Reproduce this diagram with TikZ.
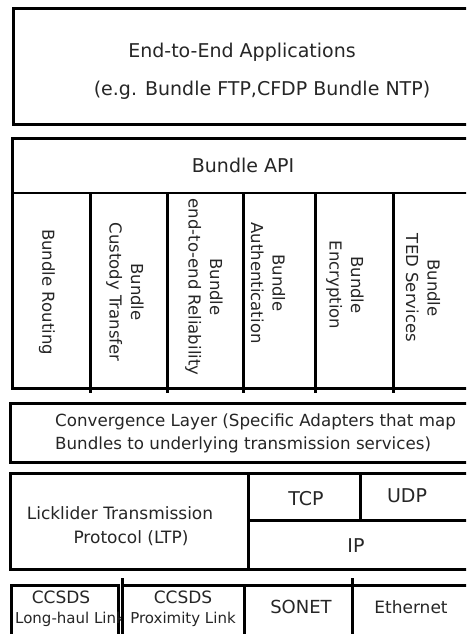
\documentclass[tikz,border=0pt]{standalone}
\usepackage{fontspec}
\setmainfont{DejaVu Sans}
\begin{document}
\begin{tikzpicture}[x=1pt,y=-1pt,
  box/.style={draw=black, fill=white, line width=3pt, inner sep=0pt, outer sep=0pt, anchor=north west},
  sep/.style={draw=black, line width=3pt},
  thin/.style={draw=black, line width=2.2pt},
  big/.style={inner sep=0pt, text=black!85, font=\fontsize{19}{23}\selectfont},
  mid/.style={inner sep=0pt, text=black!85, font=\fontsize{17}{21.5}\selectfont},
  conv/.style={inner sep=0pt, text=black!85, font=\fontsize{16.7}{21.5}\selectfont},
  col/.style={inner sep=0pt, text=black!85, rotate=-90, align=center, font=\fontsize{16.5}{21.5}\selectfont},
  small/.style={inner sep=0pt, text=black!85, font=\fontsize{15}{18}\selectfont},
  ccsds/.style={inner sep=0pt, text=black!85, font=\fontsize{17}{20}\selectfont}]
\useasboundingbox (0,0) rectangle (466,634);
\clip (0,0) rectangle (466,634);
% End-to-end applications
\node[box, minimum width=459pt, minimum height=115pt] (app) at (13,9) {};
\node[big] (appA) at (242,52) {End-to-End Applications};
\node[big] (appB) at (262,90) {(e.g. Bundle FTP,CFDP Bundle NTP)};
% Bundle layer
\node[box, minimum width=460pt, minimum height=250pt] (bundle) at (12,138) {};
\coordinate (apiL) at (12,193);
\coordinate (apiR) at (472,193);
\draw[thin] (apiL) -- (apiR);
\node[big] (api) at (243,165) {Bundle API};
\foreach \x [count=\i] in {90,167,243,315,393}{
  \coordinate (dt\i) at (\x,193);
  \coordinate (db\i) at (\x,393);
  \draw[sep] (dt\i) -- (db\i);
}
\node[col] (c1) at (47,292) {Bundle Routing};
\node[col] (c2) at (125,292) {Bundle\\Custody Transfer};
\node[col] (c3) at (204,287) {Bundle\\end-to-end Reliability};
\node[col] (c4) at (268,283) {Bundle\\Authentication};
\node[col] (c5) at (345,285) {Bundle\\Encryption};
\node[col] (c6) at (423,288) {Bundle\\TED Services};
% Convergence layer
\node[box, minimum width=462pt, minimum height=59pt] (convbox) at (10,403) {};
\node[conv, anchor=west] (convA) at (55,422) {Convergence Layer (Specific Adapters that map};
\node[conv, anchor=west] (convB) at (55,445) {Bundles to underlying transmission services)};
% Transport
\node[box, minimum width=238pt, minimum height=96pt] (ltp) at (10,473) {};
\node[box, minimum width=224pt, minimum height=96pt] (ipbox) at (248,473) {};
\coordinate (hL) at (248,520);
\coordinate (hR) at (472,520);
\draw[sep] (hL) -- (hR);
\coordinate (vT) at (360,473);
\coordinate (vB) at (360,520);
\draw[sep] (vT) -- (vB);
\node[mid] (ltpA) at (120,513) {Licklider Transmission};
\node[mid] (ltpB) at (131,538) {Protocol (LTP)};
\node[big] (tcp) at (306,499) {TCP};
\node[big] (udp) at (407,496) {UDP};
\node[big] (ip) at (356,546) {IP};
% Link layer
\node[box, minimum width=107pt, minimum height=55pt] (lh) at (11,585) {};
\node[ccsds] (lhA) at (61,597) {CCSDS};
\node[small, anchor=west] (lhB) at (15,619) {Long-haul Link};
\node[box, minimum width=122pt, minimum height=55pt] (prox) at (122,585) {};
\coordinate (s1T) at (122,578);
\coordinate (s1B) at (122,640);
\draw[sep] (s1T) -- (s1B);
\node[ccsds] (prA) at (183,597) {CCSDS};
\node[small] (prB) at (183,619) {Proximity Link};
\node[box, minimum width=108pt, minimum height=55pt] (sonet) at (244,585) {};
\node[box, minimum width=120pt, minimum height=55pt] (eth) at (352,585) {};
\coordinate (s2T) at (352,578);
\coordinate (s2B) at (352,640);
\draw[sep] (s2T) -- (s2B);
\node[big, font=\fontsize{18}{21}\selectfont] (son) at (301,607) {SONET};
\node[mid] (ethT) at (411,607) {Ethernet};
\end{tikzpicture}
\end{document}
